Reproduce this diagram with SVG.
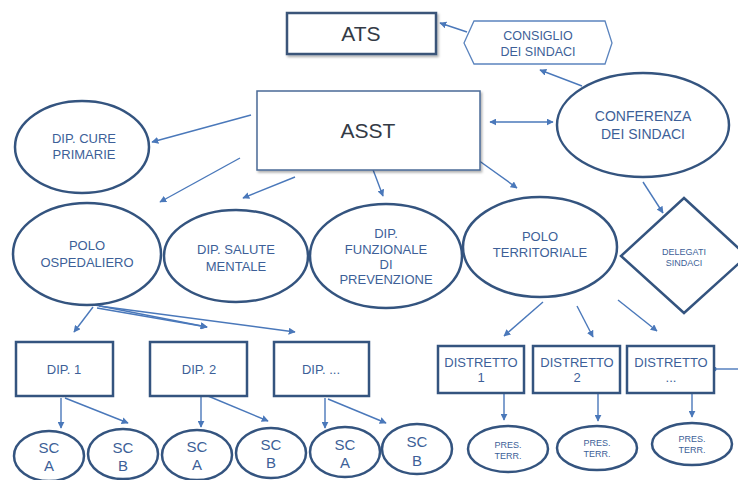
<svg xmlns="http://www.w3.org/2000/svg" width="738" height="480" viewBox="0 0 738 480">
<defs>
<marker id="ah" viewBox="0 0 10 10" refX="9" refY="5" markerWidth="7" markerHeight="7" orient="auto-start-reverse" markerUnits="userSpaceOnUse">
<path d="M0,0 L10,5 L0,10 z" fill="#4A78BA"/>
</marker>
<marker id="dot" viewBox="0 0 10 10" refX="5" refY="5" markerWidth="5" markerHeight="5" markerUnits="userSpaceOnUse">
<circle cx="5" cy="5" r="5" fill="#4A78BA"/>
</marker>
<filter id="sh" x="-10%" y="-10%" width="130%" height="140%">
<feDropShadow dx="1.5" dy="2" stdDeviation="1.2" flood-color="#000" flood-opacity="0.3"/>
</filter>
</defs>
<style>
.n{fill:#fff;stroke:#34547F;stroke-width:2.5}
.b{fill:#fff;stroke:#3A5479;stroke-width:2.5}
.t{font-family:"Liberation Sans",Arial,sans-serif;fill:#3D5F98;text-anchor:middle}
.big{font-family:"Liberation Sans",Arial,sans-serif;fill:#333A45;text-anchor:middle;font-size:21px}
.c line{stroke:#4A78BA;stroke-width:1.4;marker-end:url(#ah)}
</style>
<rect width="738" height="480" fill="#fff"/>

<g class="c" id="connectors">
<line x1="467" y1="32" x2="440" y2="23"/>
<line x1="582" y1="86" x2="540" y2="70"/>
<line x1="490" y1="122" x2="553" y2="122" style="marker-start:url(#ah)"/>
<line x1="251" y1="115" x2="152" y2="142"/>
<line x1="240" y1="158" x2="160" y2="202"/>
<line x1="295" y1="177" x2="243" y2="198"/>
<line x1="372" y1="167" x2="383" y2="196"/>
<line x1="478" y1="160" x2="517" y2="188"/>
<line x1="643" y1="182" x2="663" y2="213"/>
<line x1="543" y1="302" x2="504" y2="336"/>
<line x1="577" y1="306" x2="593" y2="337"/>
<line x1="618" y1="300" x2="657" y2="331"/>
<line x1="93" y1="307" x2="74" y2="332"/>
<line x1="95" y1="305" x2="207" y2="327"/>
<line x1="97" y1="308" x2="207" y2="327"/>
<line x1="99" y1="306" x2="295" y2="332"/>
<line x1="61" y1="398" x2="61" y2="428"/>
<line x1="65" y1="398" x2="128" y2="423"/>
<line x1="201" y1="395" x2="201" y2="427"/>
<line x1="208" y1="396" x2="268" y2="421"/>
<line x1="325" y1="398" x2="325" y2="428"/>
<line x1="328" y1="399" x2="386" y2="423"/>
<line x1="504" y1="394" x2="504" y2="420"/>
<line x1="598" y1="394" x2="598" y2="421"/>
<line x1="692" y1="394" x2="692" y2="417"/>
<line x1="738" y1="369" x2="714" y2="369" style="marker-end:url(#dot)"/>
</g>

<g id="ats">
<rect x="287" y="13" width="149" height="41" class="b" filter="url(#sh)"/>
<text x="361" y="41" class="big">ATS</text>
</g>
<g id="consiglio">
<polygon points="464,43 474,21 605,21 612,43 605,64 474,64" fill="#fff" stroke="#5B84BE" stroke-width="1.3"/>
<text x="538" y="40" class="t" font-size="12.5">CONSIGLIO</text>
<text x="538" y="56" class="t" font-size="12.5">DEI SINDACI</text>
</g>
<g id="asst">
<rect x="257" y="91" width="223" height="79" fill="#fff" stroke="#4A6A96" stroke-width="1.5" filter="url(#sh)"/>
<text x="368" y="138" class="big">ASST</text>
</g>
<g id="conferenza">
<ellipse cx="643" cy="125" rx="86" ry="52" class="n"/>
<text x="643" y="121" class="t" font-size="14">CONFERENZA</text>
<text x="643" y="139" class="t" font-size="14">DEI SINDACI</text>
</g>
<g id="cure">
<ellipse cx="82" cy="147" rx="67" ry="46" class="n"/>
<text x="84" y="143" class="t" font-size="13">DIP. CURE</text>
<text x="84" y="159" class="t" font-size="13">PRIMARIE</text>
</g>
<g id="ospedaliero">
<ellipse cx="87" cy="254" rx="74" ry="51" class="n"/>
<text x="87" y="250" class="t" font-size="13">POLO</text>
<text x="87" y="267" class="t" font-size="13">OSPEDALIERO</text>
</g>
<g id="salute">
<ellipse cx="236" cy="256" rx="72" ry="46" class="n"/>
<text x="236" y="254" class="t" font-size="13">DIP. SALUTE</text>
<text x="236" y="271" class="t" font-size="13">MENTALE</text>
</g>
<g id="prevenzione">
<ellipse cx="386" cy="256" rx="76" ry="52" class="n"/>
<text x="386" y="238" class="t" font-size="13">DIP.</text>
<text x="386" y="254" class="t" font-size="13">FUNZIONALE</text>
<text x="386" y="269" class="t" font-size="13">DI</text>
<text x="386" y="284" class="t" font-size="13">PREVENZIONE</text>
</g>
<g id="territoriale">
<ellipse cx="540" cy="247" rx="77" ry="50" class="n"/>
<text x="540" y="241" class="t" font-size="13">POLO</text>
<text x="540" y="257" class="t" font-size="13">TERRITORIALE</text>
</g>
<g id="delegati">
<polygon points="684,198 747,256 684,313 621,256" class="n"/>
<text x="684" y="255" class="t" font-size="9">DELEGATI</text>
<text x="684" y="266" class="t" font-size="9">SINDACI</text>
</g>

<g id="dip1"><rect x="16" y="342" width="97" height="54" class="n"/><text x="64" y="374" class="t" font-size="13">DIP. 1</text></g>
<g id="dip2"><rect x="150" y="342" width="97" height="54" class="n"/><text x="199" y="374" class="t" font-size="13">DIP. 2</text></g>
<g id="dip3"><rect x="274" y="342" width="95" height="54" class="n"/><text x="321" y="374" class="t" font-size="13">DIP. ...</text></g>

<g id="distr1"><rect x="438" y="346" width="86" height="47" class="n" stroke-width="3"/><text x="481" y="367" class="t" font-size="13">DISTRETTO</text><text x="481" y="382" class="t" font-size="13">1</text></g>
<g id="distr2"><rect x="533" y="346" width="87" height="47" class="n" stroke-width="3"/><text x="577" y="367" class="t" font-size="13">DISTRETTO</text><text x="577" y="382" class="t" font-size="13">2</text></g>
<g id="distr3"><rect x="627" y="346" width="87" height="47" class="n" stroke-width="3"/><text x="671" y="367" class="t" font-size="13">DISTRETTO</text><text x="671" y="382" class="t" font-size="13">...</text></g>

<g id="sca1"><ellipse cx="49" cy="456" rx="35" ry="25" class="n"/><text x="49" y="453" class="t" font-size="15">SC</text><text x="49" y="471" class="t" font-size="15">A</text></g>
<g id="scb1"><ellipse cx="123" cy="454" rx="35" ry="25" class="n"/><text x="123" y="453" class="t" font-size="15">SC</text><text x="123" y="471" class="t" font-size="15">B</text></g>
<g id="sca2"><ellipse cx="197" cy="455" rx="35" ry="25" class="n"/><text x="197" y="452" class="t" font-size="15">SC</text><text x="197" y="470" class="t" font-size="15">A</text></g>
<g id="scb2"><ellipse cx="271" cy="453" rx="35" ry="25" class="n"/><text x="271" y="450" class="t" font-size="15">SC</text><text x="271" y="468" class="t" font-size="15">B</text></g>
<g id="sca3"><ellipse cx="345" cy="452" rx="35" ry="25" class="n"/><text x="345" y="450" class="t" font-size="15">SC</text><text x="345" y="468" class="t" font-size="15">A</text></g>
<g id="scb3"><ellipse cx="417" cy="449" rx="35" ry="25" class="n"/><text x="417" y="447" class="t" font-size="15">SC</text><text x="417" y="466" class="t" font-size="15">B</text></g>

<g id="pres1"><ellipse cx="508" cy="449" rx="40" ry="23" class="n"/><text x="508" y="448" class="t" font-size="9">PRES.</text><text x="508" y="459" class="t" font-size="9">TERR.</text></g>
<g id="pres2"><ellipse cx="597" cy="448" rx="40" ry="22" class="n"/><text x="597" y="446" class="t" font-size="9">PRES.</text><text x="597" y="457" class="t" font-size="9">TERR.</text></g>
<g id="pres3"><ellipse cx="692" cy="444" rx="40" ry="21" class="n"/><text x="692" y="442" class="t" font-size="9">PRES.</text><text x="692" y="453" class="t" font-size="9">TERR.</text></g>
</svg>
